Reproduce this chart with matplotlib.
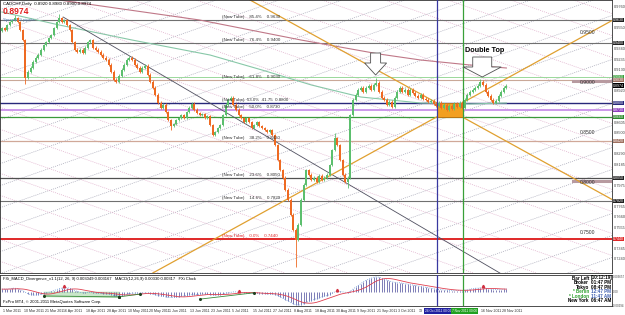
import numpy as np
import pandas as pd
import matplotlib
matplotlib.use("Agg")
import matplotlib.pyplot as plt
from matplotlib.patches import Rectangle, Polygon

plt.rcParams['font.family'] = ['Liberation Sans', 'DejaVu Sans']

W, H = 625, 315
PX_BAR = 2.6      # pixels per daily bar
P_TOP = 0.983     # price at the top edge of the main window
P_BOT = 0.710     # price at the bottom edge

# CADCHF daily closes, 1 Mar 2011 .. 28 Nov 2011
closes = [0.955, 0.953, 0.958, 0.961, 0.963, 0.965, 0.961, 0.953, 0.943, 0.905,
          0.911, 0.915, 0.921, 0.925, 0.928, 0.933, 0.938, 0.941, 0.945, 0.948,
          0.955, 0.961, 0.965, 0.961, 0.963, 0.958, 0.953, 0.941, 0.933, 0.931,
          0.933, 0.930, 0.935, 0.941, 0.943, 0.935, 0.933, 0.931, 0.928, 0.925,
          0.923, 0.918, 0.911, 0.903, 0.901, 0.907, 0.913, 0.918, 0.923, 0.925,
          0.923, 0.918, 0.915, 0.911, 0.915, 0.917, 0.908, 0.901, 0.895, 0.888,
          0.880, 0.875, 0.878, 0.871, 0.863, 0.857, 0.859, 0.863, 0.865, 0.868,
          0.865, 0.871, 0.875, 0.879, 0.873, 0.870, 0.868, 0.869, 0.865, 0.867,
          0.858, 0.848, 0.851, 0.855, 0.858, 0.868, 0.878, 0.883, 0.885, 0.878,
          0.873, 0.868, 0.865, 0.861, 0.865, 0.861, 0.855, 0.858, 0.861, 0.857,
          0.855, 0.853, 0.851, 0.853, 0.848, 0.838, 0.823, 0.813, 0.805, 0.793,
          0.783, 0.768, 0.753, 0.743, 0.758, 0.783, 0.798, 0.813, 0.808, 0.803,
          0.805, 0.801, 0.807, 0.803, 0.805, 0.808, 0.818, 0.833, 0.845, 0.838,
          0.823, 0.808, 0.801, 0.805, 0.868, 0.883, 0.888, 0.893, 0.895, 0.891,
          0.895, 0.897, 0.893, 0.898, 0.900, 0.891, 0.885, 0.883, 0.878, 0.881,
          0.876, 0.885, 0.891, 0.895, 0.891, 0.893, 0.888, 0.893, 0.890, 0.887,
          0.885, 0.888, 0.884, 0.883, 0.881, 0.882, 0.879, 0.877, 0.880, 0.875,
          0.878, 0.873, 0.877, 0.874, 0.879, 0.876, 0.880, 0.875, 0.883, 0.888,
          0.891, 0.893, 0.895, 0.897, 0.901, 0.898, 0.891, 0.887, 0.883, 0.880,
          0.882, 0.887, 0.891, 0.895, 0.8974]
first_open = 0.952
long_highs = {5: 0.968, 22: 0.969, 128: 0.850, 144: 0.905, 184: 0.904}
long_lows = {9: 0.899, 65: 0.853, 113: 0.716, 133: 0.795}
wick = 0.0015

# MACD main line, in 1e-4
macd_pips = [6, 6, 6, 7, 8, 8, 7, 5, 3,
             -1, -4, -6, -7,
             -7, -6, -5, -4, -3, -1, 1,
             3, 5, 7, 8, 9, 9, 8,
             6, 3, 1, -1, -2, -2, -1, -1, -2,
             -2, -3, -3, -4, -4, -5, -6, -8, -9, -9,
             -8, -7, -5, -4, -3, -3, -3, -3, -3, -3,
             -3, -4, -5, -6, -8, -9, -10, -11, -12, -12, -12,
             -12, -11, -10, -9, -8, -7, -6, -6, -6, -5, -5, -5, -5,
             -6, -7, -7, -7, -6, -5, -3, -2, -1, 0, 0,
             -1, -1, -2, -2, -3, -3, -3, -3, -4, -4, -4, -4, -5, -5, -6,
             -8, -11, -14, -17, -20, -23, -26, -28, -29, -28,
             -26, -23, -21, -19, -17, -15, -13, -11, -10, -8,
             -6, -3, 0, 1, 1, 0, -1, -2, 2, 6,
             10, 14, 18, 22, 25, 28, 30, 32, 33, 32,
             30, 28, 26, 24, 22, 21, 20, 20, 19, 18,
             17, 16, 15, 14, 13, 12, 11, 10, 9, 8,
             7, 6, 5, 5, 4, 4, 3, 3, 3, 3,
             3, 3, 4, 5, 6, 7, 8, 8, 9, 9,
             8, 7, 6, 5, 5, 5, 5, 6, 7]
div_segments = [([16, 45], [-9, -11]), ([45, 53], [-11, -5]), ([76, 97], [-16, -2])]
div_peaks = [24, 91, 129, 185]

# moving averages (vertices)
ma_green_bars = [0, 22, 50, 80, 100, 119, 138, 161, 180, 194]
ma_green = [0.971, 0.958, 0.943, 0.928, 0.913, 0.898, 0.886, 0.880, 0.879, 0.880]
ma_red_bars = [0, 22, 49, 76, 115, 145, 161, 180, 194]
ma_red = [0.995, 0.983, 0.973, 0.963, 0.943, 0.929, 0.923, 0.918, 0.915]

# trend lines (bar, price)
grey_trend = ([23.5, 200], [0.966, 0.697])
gold_up = ((58, 0.710), (235, 0.963))
gold_down = ((95.4, 0.983), (235, 0.783))

# horizontal levels
levels = [0.9630, 0.9400, 0.9060, 0.9030, 0.8800, 0.8730, 0.8660, 0.8420, 0.8050, 0.7820, 0.7440]
level_colors = ['#707070', '#707070', '#9ad89a', '#c9a898', '#28287a', '#c890e8', '#3a9a3a',
                '#d0a898', '#505050', '#707070', '#e02828']
level_widths = [0.8, 0.8, 0.7, 0.8, 1.0, 1.3, 0.9, 0.9, 0.9, 0.8, 1.4]
level_box = ['#202020', '#202020', '#3aa03a', '#a07060', '#28287a', '#9040c0', '#2a8a2a',
             '#a07060', '#202020', '#202020', '#e02828']
fibo_text = {0.9630: '(New Tube)    85.4%    0.9630', 0.9400: '(New Tube)    76.4%    0.9400',
             0.9030: '(New Tube)    61.8%    0.9030', 0.8800: '(New Tube)  53.0%  41.75  0.8800',
             0.8730: '(New Tube)    50.0%    0.8730', 0.8420: '(New Tube)    38.2%    0.8420',
             0.8050: '(New Tube)    23.6%    0.8050', 0.7820: '(New Tube)    14.6%    0.7820',
             0.7440: '(New Tube)    0.0%    0.7440'}
round_levels = [0.95, 0.90, 0.85, 0.80, 0.75]
banded = [0.90, 0.80]

dates = ['1 Mar 2011', '10 Mar 2011', '21 Mar 2011', '6 Apr 2011', '18 Apr 2011', '28 Apr 2011',
         '10 May 2011', '20 May 2011', '1 Jun 2011', '13 Jun 2011', '23 Jun 2011', '5 Jul 2011',
         '15 Jul 2011', '27 Jul 2011', '8 Aug 2011', '18 Aug 2011', '30 Aug 2011', '9 Sep 2011',
         '21 Sep 2011', '3 Oct 2011', '13', '16 Nov 2011', '28 Nov 2011']
date_bars = [0, 8, 16, 24, 32, 40, 48, 56, 64, 72, 80, 88, 96, 104, 112, 120, 128, 136,
             144, 152, 160, 184, 192]
vline_blue, vline_green = 167.3, 177.3
box_prices = (0.866, 0.880)
tops = [144, 184]


def bx(px):
    return (px - 2) / PX_BAR


def pxb(bar):
    return 2 + bar * PX_BAR


def fy(p):
    return 1 - (P_TOP - p) * 1000 / H


fig = plt.figure(figsize=(6.25, 3.15), dpi=100)
fig.patch.set_facecolor('white')
ax = fig.add_axes([0, 1 - 273 / H, 612 / W, 273 / H])
ax2 = fig.add_axes([0, 1 - 306 / H, 612 / W, 31 / H])
for a in (ax, ax2):
    a.set_xlim(bx(0), bx(612))
    a.set_xticks([])
    a.set_yticks([])
    for s in a.spines.values():
        s.set_linewidth(0.6)
        s.set_color('#303030')
ax.set_ylim(P_BOT, P_TOP)

# diamond grid
slope = 0.35 * 0.001 * PX_BAR
for p0 in np.arange(0.49, 1.22, 0.022):
    ax.axline((0, p0), slope=slope, color='#a8a8b8', lw=0.5, ls=(0, (1.5, 1.5)), zorder=0)
    ax.axline((0, p0 + 0.011), slope=-slope, color='#e0b0cc', lw=0.5, ls=(0, (1.5, 1.5)), zorder=0)

# horizontal levels and labels
for p, c, lw in zip(levels, level_colors, level_widths):
    ax.axhline(p, color=c, lw=lw, zorder=1)
for p, t in fibo_text.items():
    ax.text(bx(222), p + 0.0008, t, fontsize=3.2, color='#e02828' if p < 0.75 else '#303030',
            va='bottom', zorder=5)
for p in round_levels:
    ax.text(bx(580), p, f'{p:.4f}', fontsize=3.6, color='#303030', va='center', zorder=5)
for p in banded:
    ax.plot([bx(573), bx(612)], [p + 0.002, p + 0.002], color='#b89aa0', lw=2.2, zorder=1)

# moving averages and trend lines
ax.plot(ma_green_bars, ma_green, color='#88c8a8', lw=0.8, zorder=1)
ax.plot(ma_red_bars, ma_red, color='#c07888', lw=0.8, zorder=1)
ax.plot(*grey_trend, color='#505060', lw=0.6, zorder=2)
ax.axline(*gold_up, color='#e0a030', lw=0.9, zorder=2)
ax.axline(*gold_down, color='#e0a030', lw=0.9, zorder=2)

# consolidation box and vertical lines
ax.add_patch(Rectangle((vline_blue, box_prices[0]), vline_green - vline_blue,
                       box_prices[1] - box_prices[0], facecolor='#f2a020',
                       edgecolor='#c07010', lw=0.6, zorder=2))
for a in (ax, ax2):
    a.axvline(vline_blue, color='#3838a0', lw=0.9, zorder=4)
    a.axvline(vline_green, color='#38a038', lw=0.9, zorder=4)

# candles
opens = [first_open] + closes[:-1]
idx = np.arange(len(closes))
for i, (o, c) in enumerate(zip(opens, closes)):
    col = '#5cbf6e' if c >= o else '#ee6a22'
    hi = long_highs.get(i, max(o, c) + wick)
    lo = long_lows.get(i, min(o, c) - wick)
    ax.vlines(i, lo, hi, color=col, lw=0.6, zorder=3)
    ax.bar(i, max(abs(c - o), 0.0008), bottom=min(o, c), width=0.75, color=col, zorder=3)


# arrows and label
def down_arrow(tip_bar, tip_p, w_body, w_head, h_body, h_head):
    tx = pxb(tip_bar)
    ty = (P_TOP - tip_p) * 1000
    pts = [(tx - w_body / 2, ty - h_head - h_body), (tx + w_body / 2, ty - h_head - h_body),
           (tx + w_body / 2, ty - h_head), (tx + w_head / 2, ty - h_head), (tx, ty),
           (tx - w_head / 2, ty - h_head), (tx - w_body / 2, ty - h_head)]
    pts = [(bx(x), P_TOP - y / 1000) for x, y in pts]
    ax.add_patch(Polygon(pts, closed=True, facecolor='white', edgecolor='#505050', lw=0.6, zorder=6))


down_arrow(tops[0] - 0.3, long_highs[tops[0]] + 0.003, 10, 22, 10, 12)
down_arrow(tops[1] + 0.7, long_highs[tops[1]] + 0.002, 19, 38, 10, 10)
ax.text(bx(485), P_TOP - 0.050, 'Double Top', fontsize=5.2, fontweight='bold',
        ha='center', va='center', zorder=6)

# header
fig.text(3 / W, 1 - 4 / H, 'CADCHF,Daily  0.8920 0.8980 0.8900 0.8974', fontsize=3.2, va='center')
fig.text(3 / W, 1 - 11 / H, '0.8974', fontsize=6.2, color='#e02020', fontweight='bold', va='center')
fig.text(3 / W, 1 - 20 / H, 'Spread: 9 pipets', fontsize=3.2, color='#5080b0', va='center')

# right price scale
marked = levels + [closes[-1]]
for p in np.arange(0.7135, 0.980, 0.0105):
    if p < 0.717 or min(abs(p - m) for m in marked) < 0.005:
        continue
    fig.text(614 / W, fy(p), f'{p:.4f}', fontsize=2.8, color='#404040', va='center')
for p, c in zip(levels, level_box):
    fig.text(613 / W, fy(p), f'{p:.4f}', fontsize=2.6, color='white', va='center',
             bbox=dict(facecolor=c, edgecolor='none', pad=0.3))
fig.text(613 / W, fy(closes[-1]), f'{closes[-1]:.4f}', fontsize=2.6, color='white', va='center',
         bbox=dict(facecolor='black', edgecolor='none', pad=0.3))

# MACD window
macd = np.array(macd_pips) * 1e-4
signal = pd.Series(macd).rolling(9, min_periods=1).mean()
ax2.set_ylim(-0.0031, 0.0037)
ax2.vlines(idx, 0, macd, color='#4a4a9a', lw=0.5, zorder=2)
ax2.plot(idx, macd, color='#6a9ad8', lw=0.6, ls=':', zorder=3)
ax2.plot(idx, signal, color='#e04050', lw=0.6, zorder=3)
for xs, vs in div_segments:
    ax2.plot(xs, np.array(vs) * 1e-4, color='#3a8a3a', lw=0.6, zorder=4)
    ax2.plot(xs, np.array(vs) * 1e-4, 'o', color='#204020', ms=1.2, zorder=4)
ax2.fill_between(div_segments[0][0], np.array(div_segments[0][1]) * 1e-4, 0,
                 color='#a8d8a8', alpha=0.6, zorder=1)
for b in div_peaks:
    ax2.plot(b, macd[b] + 0.0004, '^', color='#d03040', ms=1.8, zorder=5)

fig.text(3 / W, 1 - 279 / H, 'FXi_MACD_Divergence_v1.1(12, 26, 9) 0.003049 0.003167   '
         'MACD(12,26,9) 0.00330 0.00317   FXi Clock', fontsize=3.0, va='center')
fig.text(3 / W, 1 - 302 / H, 'FxPro MT4, \u00a9 2001-2011 MetaQuotes Software Corp.',
         fontsize=3.0, va='center')
fig.text(613 / W, 1 - 277.5 / H, '0.003657', fontsize=2.1, color='#404040', va='center')
fig.text(613 / W, 1 - 292 / H, '0.00', fontsize=2.1, color='#404040', va='center')
fig.text(613 / W, 1 - 306 / H, '-0.00294', fontsize=2.1, color='#404040', va='center')

clock_names = ['Bar Left', 'Broker', 'Tokyo', '* Berlin', '* London', 'New York']
clock_times = ['[10:12:19]', '01:47 PM', '08:47 PM', '12:47 PM', '11:47 AM', '06:47 AM']
clock_cols = ['black', 'black', 'black', '#30a030', '#30a030', 'black']
for k, (n, t, c) in enumerate(zip(clock_names, clock_times, clock_cols)):
    yy = 1 - (278 + 4.6 * k) / H
    fig.text(589 / W, yy, n, fontsize=3.3, fontweight='bold', color=c, ha='right', va='center')
    fig.text(591 / W, yy, t, fontsize=3.3, fontweight='bold',
             color='#4060b0' if c != 'black' else 'black', va='center')

# date row
for d, b in zip(dates, date_bars):
    fig.text((pxb(b) + 1) / W, 1 - 311 / H, d, fontsize=2.6, color='#303030', va='center')
fig.text(425 / W, 1 - 311 / H, '24 Oct 2011 00:00', fontsize=2.3, color='white',
         va='center', bbox=dict(facecolor='#2020a0', edgecolor='none', pad=0.7))
fig.text(452 / W, 1 - 311 / H, '7 Nov 2011 00:00', fontsize=2.3, color='white',
         va='center', bbox=dict(facecolor='#20a020', edgecolor='none', pad=0.7))

fig.savefig('out.png', dpi=100)
